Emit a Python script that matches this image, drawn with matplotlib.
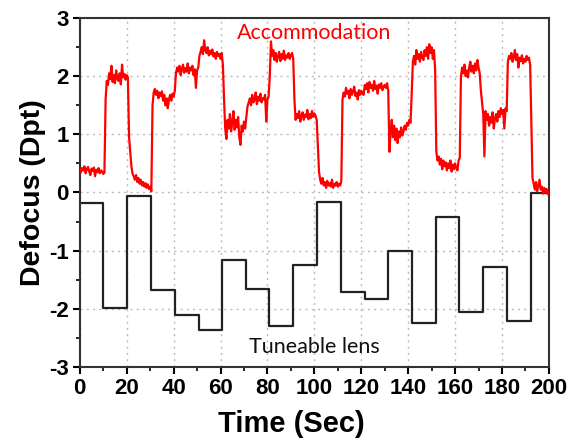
import matplotlib
matplotlib.use("Agg")
import matplotlib.pyplot as plt
from matplotlib.ticker import MultipleLocator

# Tuneable lens step changes (start time of each step, Dpt)
lens_times = [0, 10.1, 20.3, 30.5, 40.5, 50.7, 60.5, 70.8, 80.8, 91.0,
              101.0, 111.3, 121.5, 131.5, 141.7, 151.7, 161.7, 172.0, 182.0, 192.2, 200]
lens_values = [-0.18, -1.98, -0.06, -1.67, -2.10, -2.36, -1.17, -1.66, -2.29, -1.25,
               -0.16, -1.72, -1.84, -1.01, -2.24, -0.43, -2.06, -1.29, -2.21, -0.01, -0.01]

# Accommodation trace, sampled every 0.5 s (rows of 10 s)
acc_values = [
    0.40, 0.35, 0.42, 0.38, 0.45, 0.33, 0.40, 0.44, 0.36, 0.30, 0.41, 0.37, 0.43, 0.28, 0.39, 0.35, 0.42, 0.33, 0.38, 0.36,
    0.32, 0.34, 1.60, 1.92, 1.85, 2.05, 1.95, 2.18, 1.90, 2.02, 1.88, 2.10, 1.96, 1.92, 2.05, 1.86, 2.20, 1.98, 2.04, 1.94,
    2.02, 1.98, 0.95, 0.70, 0.45, 0.32, 0.28, 0.22, 0.30, 0.18, 0.25, 0.15, 0.22, 0.12, 0.18, 0.10, 0.16, 0.08, 0.14, 0.06,
    0.10, 0.02, 1.50, 1.72, 1.78, 1.68, 1.75, 1.62, 1.72, 1.66, 1.74, 1.58, 1.68, 1.50, 1.62, 1.45, 1.60, 1.68, 1.58, 1.70,
    1.65, 1.75, 2.05, 2.15, 2.08, 2.18, 2.02, 2.12, 2.20, 2.06, 2.14, 2.08, 2.22, 2.05, 2.15, 2.10, 2.18, 2.02, 2.12, 1.80,
    2.10, 2.15, 2.35, 2.42, 2.50, 2.38, 2.62, 2.45, 2.40, 2.50, 2.36, 2.44, 2.38, 2.46, 2.34, 2.40, 2.30, 2.42, 2.35, 2.38,
    2.30, 2.40, 2.20, 1.60, 1.10, 0.92, 1.25, 1.10, 1.35, 1.05, 1.20, 1.40, 1.08, 1.25, 1.12, 1.30, 0.95, 0.82, 1.15, 1.05,
    1.22, 1.10, 1.30, 1.48, 1.55, 1.62, 1.50, 1.68, 1.55, 1.60, 1.72, 1.52, 1.65, 1.58, 1.70, 1.55, 1.62, 1.60, 1.68, 1.22,
    1.60, 1.65, 2.00, 2.60, 2.35, 2.45, 2.28, 2.40, 2.25, 2.35, 2.42, 2.26, 2.38, 2.30, 2.44, 2.28, 2.36, 2.32, 2.40, 2.30,
    2.36, 2.40, 2.30, 1.60, 1.25, 1.35, 1.28, 1.40, 1.22, 1.32, 1.38, 1.25, 1.34, 1.30, 1.42, 1.26, 1.35, 1.28, 1.40, 1.30,
    1.36, 1.32, 1.25, 0.80, 0.35, 0.22, 0.15, 0.25, 0.12, 0.18, 0.08, 0.20, 0.12, 0.16, 0.10, 0.22, 0.08, 0.15, 0.12, 0.18,
    0.10, 0.15, 0.12, 0.20, 1.60, 1.72, 1.65, 1.80, 1.70, 1.75, 1.62, 1.78, 1.68, 1.74, 1.82, 1.66, 1.72, 1.60, 1.76, 1.68,
    1.75, 1.70, 1.68, 1.85, 1.78, 1.88, 1.72, 1.90, 1.80, 1.85, 1.75, 1.92, 1.78, 1.84, 1.70, 1.86, 1.80, 1.88, 1.76, 1.82,
    1.85, 1.80, 1.88, 1.75, 0.70, 1.05, 1.25, 0.95, 1.15, 0.90, 1.10, 0.85, 1.05, 0.95, 1.12, 0.98, 1.05, 1.15, 1.08, 1.20,
    1.15, 1.25, 1.20, 1.70, 2.25, 2.35, 2.20, 2.45, 2.30, 2.38, 2.25, 2.42, 2.32, 2.28, 2.45, 2.35, 2.50, 2.30, 2.55, 2.40,
    2.50, 2.30, 2.45, 2.10, 0.70, 0.55, 0.62, 0.48, 0.58, 0.40, 0.55, 0.45, 0.52, 0.38, 0.50, 0.42, 0.55, 0.36, 0.48, 0.40,
    0.50, 0.42, 0.38, 0.55, 0.60, 2.00, 2.15, 2.05, 2.20, 2.00, 2.10, 1.98, 2.15, 2.25, 2.08, 2.18, 2.05, 2.22, 2.10, 2.28,
    2.15, 2.05, 1.75, 1.55, 1.35, 0.62, 1.40, 1.25, 1.35, 1.15, 1.30, 1.20, 1.38, 1.10, 1.28, 1.35, 1.22, 1.40, 1.30, 1.45,
    1.35, 1.42, 1.10, 1.45, 1.40, 2.25, 2.35, 2.30, 2.40, 2.25, 2.32, 2.45, 2.28, 2.38, 2.15, 2.32, 2.26, 2.36, 2.22, 2.30,
    2.25, 2.35, 2.28, 2.32, 2.20, 1.20, 0.25, 0.15, 0.05, 0.18, 0.02, 0.12, 0.22, 0.05, 0.10, -0.02, 0.08, 0.00, 0.06, -0.03,
    0.02,
]
acc_times = [i * 0.5 for i in range(len(acc_values))]

x_ticks = [0, 20, 40, 60, 80, 100, 120, 140, 160, 180, 200]
y_ticks = [-3, -2, -1, 0, 1, 2, 3]

plt.rcParams['font.family'] = ['Liberation Sans', 'DejaVu Sans']
plt.rcParams['axes.unicode_minus'] = False

fig = plt.figure(figsize=(5.7, 4.42), dpi=100)
ax = fig.add_axes([0.140, 0.170, 0.823, 0.789])

ax.plot(acc_times, acc_values, color='#ff0000', lw=1.6, zorder=3)
ax.plot(lens_times, lens_values, drawstyle='steps-post', color='#222222', lw=1.6, zorder=2)

ax.set_xlim(0, 200)
ax.set_ylim(-3, 3)
ax.set_xticks(x_ticks)
ax.set_yticks(y_ticks)
ax.xaxis.set_minor_locator(MultipleLocator(10))
ax.yaxis.set_minor_locator(MultipleLocator(0.5))
ax.grid(True, which='major', linestyle=(0, (1.5, 3)), color='#bbbbbb', lw=1.0, zorder=0)
ax.tick_params(which='major', direction='out', length=5, width=1.5, labelsize=16, pad=3)
ax.tick_params(which='minor', direction='out', length=3, width=1.2)
for lbl in ax.get_xticklabels() + ax.get_yticklabels():
    lbl.set_fontweight('bold')
for sp in ax.spines.values():
    sp.set_linewidth(1.5)
    sp.set_color('#333333')

ax.set_xlabel('Time (Sec)', fontsize=21, fontweight='bold')
ax.xaxis.set_label_coords(0.45, -0.125)
ax.set_ylabel('Defocus (Dpt)', fontsize=20.5, fontweight='bold', labelpad=2)

ax.text(100, 2.74, 'Accommodation', color='#ff0000', fontsize=15.5,
        family=['Lato', 'DejaVu Sans'], ha='center', va='center')
ax.text(99.8, -2.65, 'Tuneable lens', color='#111111', fontsize=15.5,
        family=['Lato', 'DejaVu Sans'], ha='center', va='center')

fig.savefig('out.png', dpi=100)
